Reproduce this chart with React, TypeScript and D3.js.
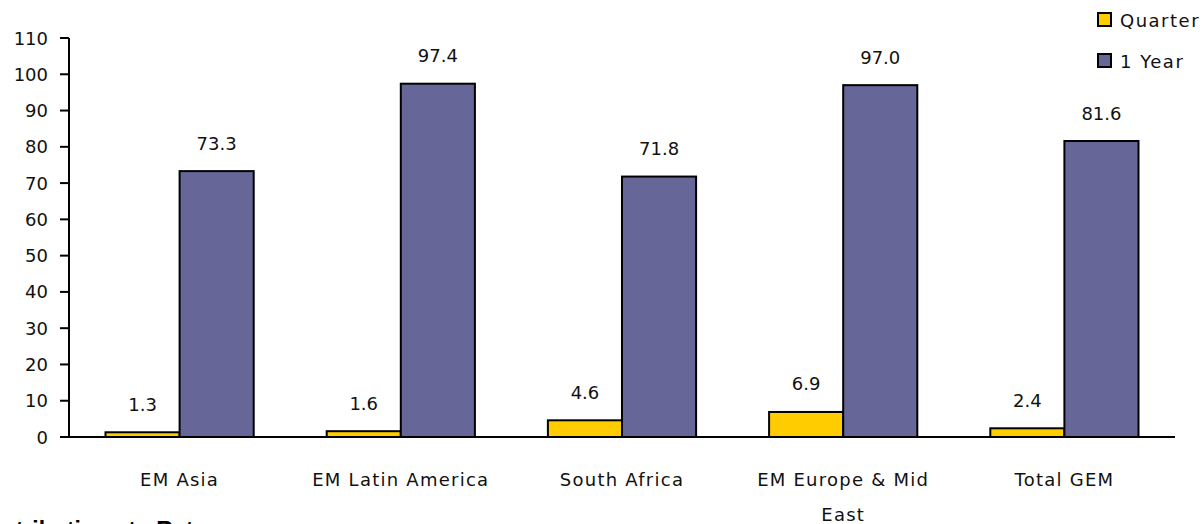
import React from "react";
import * as d3 from "d3";

const categories: string[][] = [
  ["EM Asia"],
  ["EM Latin America"],
  ["South Africa"],
  ["EM Europe & Mid", "East"],
  ["Total GEM"],
];
const seriesNames = ["Quarter", "1 Year"];
const quarter = [1.3, 1.6, 4.6, 6.9, 2.4];
const oneYear = [73.3, 97.4, 71.8, 97.0, 81.6];
const yTicks = [0, 10, 20, 30, 40, 50, 60, 70, 80, 90, 100, 110];
const colors = ["#FFCC00", "#666699"];

const W = 1203;
const H = 524;
const FONT = "'DejaVu Sans', 'Noto Sans', sans-serif";

export default function App() {
  const x0 = 69;
  const x1 = 1175;
  const y = d3.scaleLinear().domain([0, 110]).range([437, 38]);
  const band = d3
    .scaleBand<number>()
    .domain(categories.map((_, i) => i))
    .range([x0, x1])
    .paddingInner(0)
    .paddingOuter(0);
  const groupW = band.bandwidth() * 0.67;
  const inner = d3
    .scaleBand<number>()
    .domain([0, 1])
    .range([0, groupW]);
  const series = [quarter, oneYear];

  return (
    <svg
      width={W}
      height={H}
      style={{ position: "absolute", left: 0, top: 0, display: "block" }}
      fontFamily={FONT}
    >
      <rect x={0} y={0} width={W} height={H} fill="#fff" />
      {/* y axis */}
      <line x1={x0} x2={x0} y1={y(110)} y2={y(0)} stroke="#000" strokeWidth={2} />
      {yTicks.map((t) => (
        <g key={t}>
          <line x1={x0 - 9} x2={x0} y1={y(t)} y2={y(t)} stroke="#000" strokeWidth={2} />
          <text
            x={48}
            y={y(t)}
            textAnchor="end"
            dominantBaseline="central"
            fontSize={18}
            fill="#111"
          >
            {t}
          </text>
        </g>
      ))}
      {/* bars */}
      {categories.map((_, i) => {
        const gx = (band(i) as number) + (band.bandwidth() - groupW) / 2;
        return series.map((s, j) => {
          const bx = gx + (inner(j) as number);
          const bw = inner.bandwidth();
          const v = s[i];
          return (
            <g key={`${i}-${j}`}>
              <rect
                x={bx}
                y={y(v)}
                width={bw}
                height={y(0) - y(v)}
                fill={colors[j]}
                stroke="#000"
                strokeWidth={2}
              />
              <text
                x={bx + bw / 2}
                y={y(v) - 28}
                textAnchor="middle"
                dominantBaseline="central"
                fontSize={18}
                fill="#111"
              >
                {v.toFixed(1)}
              </text>
            </g>
          );
        });
      })}
      {/* x axis */}
      <line x1={x0} x2={x1} y1={y(0)} y2={y(0)} stroke="#000" strokeWidth={2} />
      {categories.map((lines, i) => (
        <text
          key={i}
          x={(band(i) as number) + band.bandwidth() / 2}
          y={480}
          textAnchor="middle"
          fontSize={18}
          letterSpacing={1.25}
          fill="#111"
        >
          {lines.map((l, k) => (
            <tspan
              key={k}
              x={(band(i) as number) + band.bandwidth() / 2}
              dy={k === 0 ? "0.35em" : 35}
            >
              {l}
            </tspan>
          ))}
        </text>
      ))}
      {/* legend */}
      {seriesNames.map((n, j) => (
        <g key={n} transform={`translate(1098, ${13 + j * 41})`}>
          <rect x={0} y={0} width={13} height={13} fill={colors[j]} stroke="#000" strokeWidth={2} />
          <text x={22} y={7} dominantBaseline="central" fontSize={18} letterSpacing={1.5} fill="#111">
            {n}
          </text>
        </g>
      ))}
      {/* clipped footer title */}
      <text x={-29} y={538} fontSize={23} fontWeight="bold" fontFamily="'Liberation Sans', Arial, sans-serif" fill="#000">
        Contributions to Returns
      </text>
    </svg>
  );
}
